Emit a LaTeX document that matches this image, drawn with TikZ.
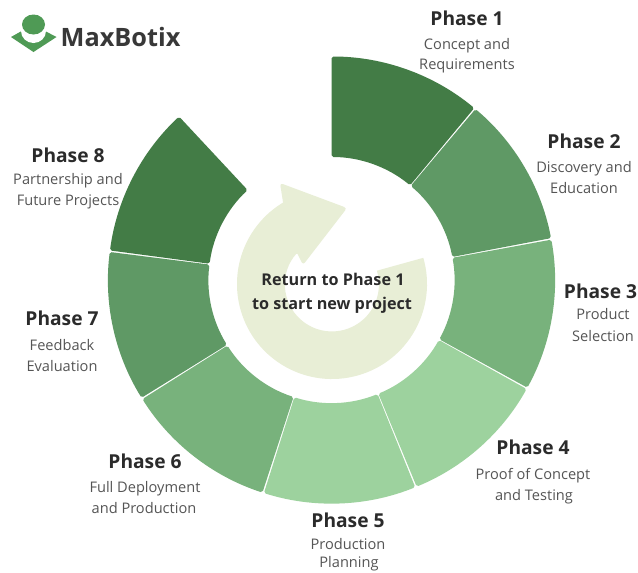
\documentclass[tikz,border=0pt]{standalone}
\usepackage{fontspec}
\setmainfont{Open Sans}
\definecolor{gA}{HTML}{437C46}
\definecolor{gB}{HTML}{5F9965}
\definecolor{gC}{HTML}{78B27C}
\definecolor{gD}{HTML}{9DD29E}
\definecolor{ringc}{HTML}{E8EED6}
\definecolor{logog}{HTML}{4F9A55}
\definecolor{titlec}{HTML}{2B2B2B}
\definecolor{subc}{HTML}{555555}
\tikzset{
  x=1pt,y=1pt,
  titletext/.style={anchor=base,inner sep=0pt,text=titlec,font=\fontsize{19.2}{21}\selectfont\bfseries},
  subtext/.style={anchor=base,inner sep=0pt,text=subc,font=\fontsize{14.6}{16}\selectfont},
  centertext/.style={anchor=base,inner sep=0pt,text=titlec,font=\fontsize{16.2}{18}\selectfont\bfseries},
  logotext/.style={anchor=base west,inner sep=0pt,text=black!78,font=\fontsize{25.3}{28}\selectfont\bfseries},
  sectorshape/.style={rounded corners=1.8pt}
}
% start angle, end angle (clockwise), colour
\newcommand{\ringsector}[3]{%
  \fill[#3,sectorshape] ($(cen)+(#1:223.5)$) arc[start angle=#1,end angle=#2,radius=223.5]
    -- ($(cen)+(#2:123)$) arc[start angle=#2,end angle=#1,radius=123] -- cycle;}
\usetikzlibrary{calc}
\begin{document}
\begin{tikzpicture}
\useasboundingbox (0,0) rectangle (638,-573);
\fill[white] (0,0) rectangle (638,-573);
\coordinate (cen) at (331.5,-280);
\coordinate (arc) at (332,-284);
% ring
\ringsector{90}{50.3}{gA}
\ringsector{49.9}{10.8}{gB}
\ringsector{10.4}{-28.8}{gC}
\ringsector{-29.2}{-67.6}{gD}
\ringsector{-68}{-107.6}{gD}
\ringsector{-108}{-147.8}{gC}
\ringsector{-148.2}{-187.2}{gB}
\ringsector{172.4}{133}{gA}
% return arrow
\fill[ringc]
  ($(arc)+(16:95)$) arc[start angle=16,end angle=-239,radius=95]
  [rounded corners=3pt] -- (280,-183) -- (347,-208) -- (303,-265) [rounded corners=1pt] -- (297,-253) [sharp corners]
  arc[start angle=-222,end angle=17,radius=47] -- cycle;
% logo
\fill[logog] (11,-37) -- (21.7,-31) -- (45,-31) -- (56.5,-37) -- (33.5,-52) -- cycle;
\fill[white] (33.5,-31) ellipse[x radius=12.5,y radius=12];
\fill[logog] (33.5,-24.5) ellipse[x radius=11.5,y radius=10];
\node[logotext] (logo) at (60.5,-46) {MaxBotix};
% labels
\node[titletext] (t1) at (467,-25) {Phase 1};
\node[subtext] (s1a) at (467,-49) {Concept and};
\node[subtext] (s1b) at (467,-69) {Requirements};
\node[titletext] (t2) at (584,-148) {Phase 2};
\node[subtext] (s2a) at (584,-172) {Discovery and};
\node[subtext] (s2b) at (584,-193) {Education};
\node[titletext] (t3) at (600.5,-298) {Phase 3};
\node[subtext] (s3a) at (603,-319) {Product};
\node[subtext] (s3b) at (603,-341) {Selection};
\node[titletext] (t4) at (533,-454) {Phase 4};
\node[subtext] (s4a) at (533,-479) {Proof of Concept};
\node[subtext] (s4b) at (534,-500) {and Testing};
\node[titletext] (t5) at (348,-527) {Phase 5};
\node[subtext] (s5a) at (348,-549) {Production};
\node[subtext] (s5b) at (349,-567.5) {Planning};
\node[titletext] (t6) at (145,-468) {Phase 6};
\node[subtext] (s6a) at (145,-492) {Full Deployment};
\node[subtext] (s6b) at (144,-513) {and Production};
\node[titletext] (t7) at (62,-325) {Phase 7};
\node[subtext] (s7a) at (62,-350) {Feedback};
\node[subtext] (s7b) at (62,-371) {Evaluation};
\node[titletext] (t8) at (68,-162) {Phase 8};
\node[subtext] (s8a) at (68,-184) {Partnership and};
\node[subtext] (s8b) at (68,-205) {Future Projects};
\node[centertext] (c1) at (333,-285) {Return to Phase 1};
\node[centertext] (c2) at (332,-309) {to start new project};
\end{tikzpicture}
\end{document}
